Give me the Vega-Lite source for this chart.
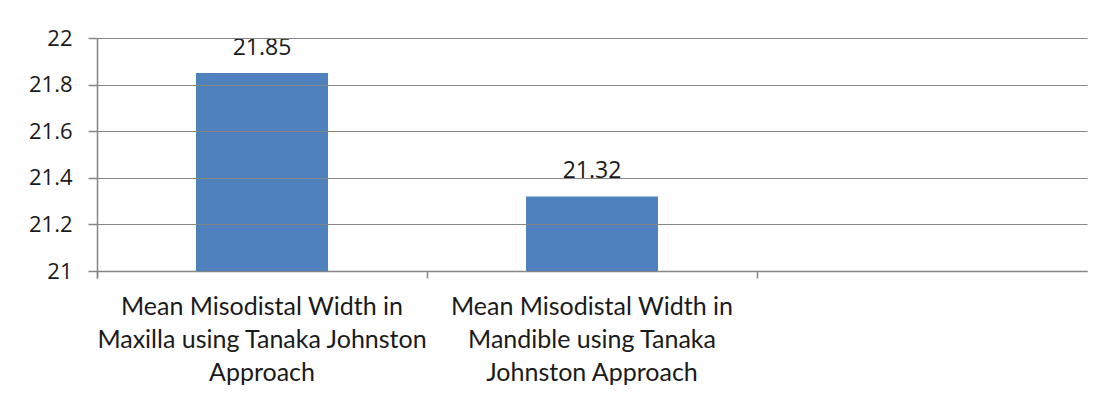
{
  "$schema": "https://vega.github.io/schema/vega-lite/v6.json",
  "width": 990,
  "height": 233,
  "autosize": "none",
  "padding": {"left": 97, "top": 38, "right": 25, "bottom": 127},
  "background": "white",
  "config": {"view": {"stroke": null}},
  "data": {
    "values": [
      {"category": "Maxilla", "value": 21.85},
      {"category": "Mandible", "value": 21.32},
      {"category": "Empty", "value": null}
    ]
  },
  "encoding": {
    "x": {
      "field": "category",
      "type": "nominal",
      "sort": null,
      "scale": {"domain": ["Maxilla", "Mandible", "Empty"], "paddingInner": 0, "paddingOuter": 0},
      "axis": {
        "title": null,
        "labelAngle": 0,
        "bandPosition": 0,
        "tickExtra": true,
        "labelExpr": "datum.value == 'Maxilla' ? ['Mean Misodistal Width in', 'Maxilla using Tanaka Johnston', 'Approach'] : datum.value == 'Mandible' ? ['Mean Misodistal Width in', 'Mandible  using Tanaka', 'Johnston Approach'] : ''",
        "labelFont": "Lato",
        "labelFontSize": 25,
        "labelColor": "#1a1a1a",
        "labelLineHeight": 33,
        "labelBaseline": "top",
        "labelPadding": 16,
        "labelLimit": 0,
        "labelOverlap": false,
        "tickSize": 7,
        "tickWidth": 1.5,
        "tickColor": "#868686",
        "domainColor": "#868686",
        "domainWidth": 1.5,
        "grid": false
      }
    },
    "y": {
      "field": "value",
      "type": "quantitative",
      "scale": {"domain": [21, 22], "zero": false, "nice": false},
      "axis": {
        "title": null,
        "values": [21, 21.2, 21.4, 21.6, 21.8, 22],
        "format": "~g",
        "labelFont": "Open Sans",
        "labelFontSize": 22,
        "labelColor": "#1a1a1a",
        "labelPadding": 16,
        "tickSize": 9,
        "tickWidth": 1.5,
        "tickColor": "#868686",
        "domain": true,
        "domainWidth": 1.5,
        "domainColor": "#868686",
        "gridColor": "#868686",
        "gridWidth": 1.2,
        "grid": true,
        "zindex": 1
      }
    }
  },
  "layer": [
    {
      "mark": {"type": "bar", "color": "#4F81BD", "width": {"band": 0.4}},
      "encoding": {"y2": {"datum": 21}}
    },
    {
      "mark": {"type": "text", "baseline": "alphabetic", "dy": -18, "font": "Open Sans", "fontSize": 23, "color": "#1a1a1a"},
      "encoding": {"text": {"field": "value", "type": "quantitative", "format": ".2f"}}
    }
  ]
}
